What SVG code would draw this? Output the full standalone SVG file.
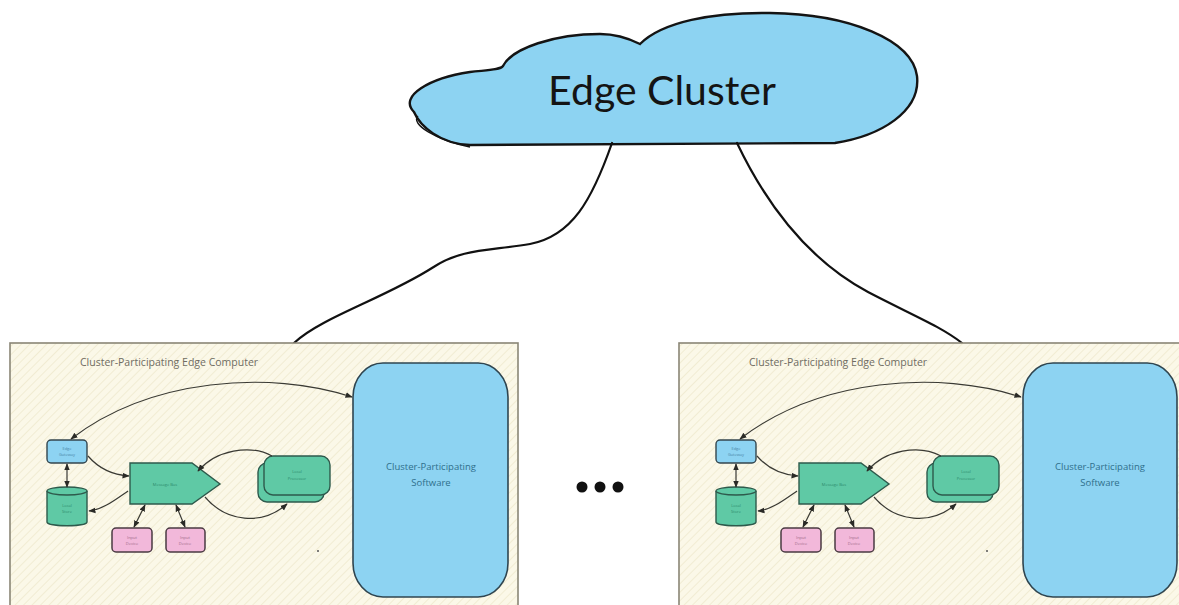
<svg xmlns="http://www.w3.org/2000/svg" width="1179" height="605" viewBox="0 0 1179 605">
  <defs>
    <style>
      .panel { fill: url(#hatch); stroke: #8a8676; stroke-width: 1.6; }
      .panel-title { font-family: "Open Sans", "Liberation Sans", sans-serif; font-size: 10.5px; fill: #6f6c62; }
      .software { fill: #8dd3f2; stroke: #2f4550; stroke-width: 1.6; }
      .software-label { font-family: "Open Sans", "Liberation Sans", sans-serif; font-size: 9.5px; fill: #2f6f8c; text-anchor: middle; }
      .blue { fill: #8dd3f2; stroke: #34464e; stroke-width: 1.4; }
      .green { fill: #5fc9a5; stroke: #2e5a4c; stroke-width: 1.4; }
      .pink { fill: #f2b8da; stroke: #4a3a42; stroke-width: 1.5; }
      .tiny { font-family: "Open Sans", "Liberation Sans", sans-serif; font-size: 4px; text-anchor: middle; }
      .tiny-blue { fill: #4a86a6; }
      .tiny-green { fill: #2d8a6c; }
      .tiny-pink { fill: #a06a88; }
      .link { fill: none; stroke: #3a3a34; stroke-width: 1.2; }
      .uplink { fill: none; stroke: #111; stroke-width: 2.2; stroke-linecap: round; }
    </style>
    <pattern id="hatch" patternUnits="userSpaceOnUse" width="6" height="6" patternTransform="rotate(45)">
      <rect width="6" height="6" fill="#fbf8e8"/>
      <line x1="0" y1="0" x2="0" y2="6" stroke="#f1ecd3" stroke-width="2"/>
    </pattern>
    <marker id="arrow" viewBox="0 0 10 10" refX="9" refY="5" markerWidth="6" markerHeight="6" orient="auto-start-reverse">
      <path d="M0,1 L10,5 L0,9 Z" fill="#2a2a26"/>
    </marker>
  </defs>

  <!-- cloud at the top -->
  <g id="edge-cluster">
    <path d="M414,112 C398,96 430,78 470,72 C488,70 500,70 503,66 C512,48 555,34 600,34 C618,34 632,40 640,44 C662,22 712,12 770,13 C850,14 912,40 917,76 C921,112 880,136 835,143 L470,145 C440,144 420,126 414,112 Z" fill="#8dd3f2" stroke="#141414" stroke-width="2.4"/>
    <path d="M418,116 C410,124 436,140 470,147" fill="none" stroke="#141414" stroke-width="1.4"/>
    <text x="662" y="105" font-family="Lato, 'Open Sans', sans-serif" font-size="41" fill="#141414" text-anchor="middle">Edge Cluster</text>
  </g>

  <!-- links from the cluster down to the computers -->
  <g id="uplinks">
    <path class="uplink" d="M612,143 C592,200 572,236 530,244 C490,251 462,248 432,268 C385,298 320,318 294,343"/>
    <path class="uplink" d="M737,143 C770,212 812,262 868,292 C912,315 940,326 962,343"/>
  </g>

  <!-- left computer -->
  <g id="computer-left">
    <rect class="panel" x="10" y="343" width="508" height="270"/>
    <text class="panel-title" x="80" y="366">Cluster-Participating Edge Computer</text>
  </g>
  <g id="software-left">
    <rect class="software" x="353" y="363" width="155" height="234" rx="30" ry="34"/>
    <text class="software-label" x="431" y="470">Cluster-Participating</text>
    <text class="software-label" x="431" y="486">Software</text>
  </g>
  <g id="ingest-left">
    <rect class="blue" x="47" y="440" width="40" height="23" rx="4"/>
    <text class="tiny tiny-blue" x="67" y="450">Edge</text>
    <text class="tiny tiny-blue" x="67" y="456">Gateway</text>
  </g>
  <g id="store-left">
    <path class="green" d="M47,491 L47,522 C47,527 87,527 87,522 L87,491"/>
    <ellipse class="green" cx="67" cy="491" rx="20" ry="4"/>
    <text class="tiny tiny-green" x="67" y="507">Local</text>
    <text class="tiny tiny-green" x="67" y="513">Store</text>
  </g>
  <g id="bus-left">
    <path class="green" d="M130,463 L192,463 L220,484 L192,504 L130,504 Z"/>
    <text class="tiny tiny-green" x="165" y="486">Message Bus</text>
  </g>
  <g id="processor-left">
    <rect class="green" x="258" y="463" width="66" height="39" rx="9"/>
    <rect class="green" x="264" y="456" width="66" height="39" rx="9"/>
    <text class="tiny tiny-green" x="297" y="473">Local</text>
    <text class="tiny tiny-green" x="297" y="480">Processor</text>
  </g>
  <g id="sensor-a-left">
    <rect class="pink" x="112" y="528" width="40" height="24" rx="4"/>
    <text class="tiny tiny-pink" x="132" y="539">Input</text>
    <text class="tiny tiny-pink" x="132" y="545">Device</text>
  </g>
  <g id="sensor-b-left">
    <rect class="pink" x="166" y="528" width="39" height="24" rx="4"/>
    <text class="tiny tiny-pink" x="185" y="539">Input</text>
    <text class="tiny tiny-pink" x="185" y="545">Device</text>
  </g>
  <circle cx="318" cy="551" r="1" fill="#555"/>
  <g id="links-left">
    <path class="link" d="M352,397 C270,370 150,378 71,439" marker-start="url(#arrow)" marker-end="url(#arrow)"/>
    <path class="link" d="M88,456 C100,470 114,475 129,476" marker-end="url(#arrow)"/>
    <path class="link" d="M128,491 C115,500 102,510 89,511" marker-end="url(#arrow)"/>
    <path class="link" d="M67,487 L67,464" marker-start="url(#arrow)" marker-end="url(#arrow)"/>
    <path class="link" d="M272,456 C250,444 216,450 198,471" marker-end="url(#arrow)"/>
    <path class="link" d="M205,497 C226,522 262,526 287,504" marker-end="url(#arrow)"/>
    <path class="link" d="M145,505 L134,527" marker-start="url(#arrow)" marker-end="url(#arrow)"/>
    <path class="link" d="M176,505 L185,527" marker-start="url(#arrow)" marker-end="url(#arrow)"/>
  </g>

  <!-- ellipsis between the computers -->
  <g id="ellipsis" fill="#111">
    <circle cx="582" cy="487" r="5.5"/>
    <circle cx="600" cy="487" r="5.5"/>
    <circle cx="618" cy="487" r="5.5"/>
  </g>

  <!-- right computer -->
  <g transform="translate(669,0)">
    <g id="computer-right">
      <rect class="panel" x="10" y="343" width="508" height="270"/>
      <text class="panel-title" x="80" y="366">Cluster-Participating Edge Computer</text>
    </g>
    <g id="software-right">
      <rect class="software" x="354" y="363" width="154" height="234" rx="30" ry="34"/>
      <text class="software-label" x="431" y="470">Cluster-Participating</text>
      <text class="software-label" x="431" y="486">Software</text>
    </g>
    <g id="ingest-right">
      <rect class="blue" x="47" y="440" width="40" height="23" rx="4"/>
      <text class="tiny tiny-blue" x="67" y="450">Edge</text>
      <text class="tiny tiny-blue" x="67" y="456">Gateway</text>
    </g>
    <g id="store-right">
      <path class="green" d="M47,491 L47,522 C47,527 87,527 87,522 L87,491"/>
      <ellipse class="green" cx="67" cy="491" rx="20" ry="4"/>
      <text class="tiny tiny-green" x="67" y="507">Local</text>
      <text class="tiny tiny-green" x="67" y="513">Store</text>
    </g>
    <g id="bus-right">
      <path class="green" d="M130,463 L192,463 L220,484 L192,504 L130,504 Z"/>
      <text class="tiny tiny-green" x="165" y="486">Message Bus</text>
    </g>
    <g id="processor-right">
      <rect class="green" x="258" y="463" width="66" height="39" rx="9"/>
      <rect class="green" x="264" y="456" width="66" height="39" rx="9"/>
      <text class="tiny tiny-green" x="297" y="473">Local</text>
      <text class="tiny tiny-green" x="297" y="480">Processor</text>
    </g>
    <g id="sensor-a-right">
      <rect class="pink" x="112" y="528" width="40" height="24" rx="4"/>
      <text class="tiny tiny-pink" x="132" y="539">Input</text>
      <text class="tiny tiny-pink" x="132" y="545">Device</text>
    </g>
    <g id="sensor-b-right">
      <rect class="pink" x="166" y="528" width="39" height="24" rx="4"/>
      <text class="tiny tiny-pink" x="185" y="539">Input</text>
      <text class="tiny tiny-pink" x="185" y="545">Device</text>
    </g>
    <circle cx="318" cy="551" r="1" fill="#555"/>
    <g id="links-right">
      <path class="link" d="M352,397 C270,370 150,378 71,439" marker-start="url(#arrow)" marker-end="url(#arrow)"/>
      <path class="link" d="M88,456 C100,470 114,475 129,476" marker-end="url(#arrow)"/>
      <path class="link" d="M128,491 C115,500 102,510 89,511" marker-end="url(#arrow)"/>
      <path class="link" d="M67,487 L67,464" marker-start="url(#arrow)" marker-end="url(#arrow)"/>
      <path class="link" d="M272,456 C250,444 216,450 198,471" marker-end="url(#arrow)"/>
      <path class="link" d="M205,497 C226,522 262,526 287,504" marker-end="url(#arrow)"/>
      <path class="link" d="M145,505 L134,527" marker-start="url(#arrow)" marker-end="url(#arrow)"/>
      <path class="link" d="M176,505 L185,527" marker-start="url(#arrow)" marker-end="url(#arrow)"/>
    </g>
  </g>
</svg>
